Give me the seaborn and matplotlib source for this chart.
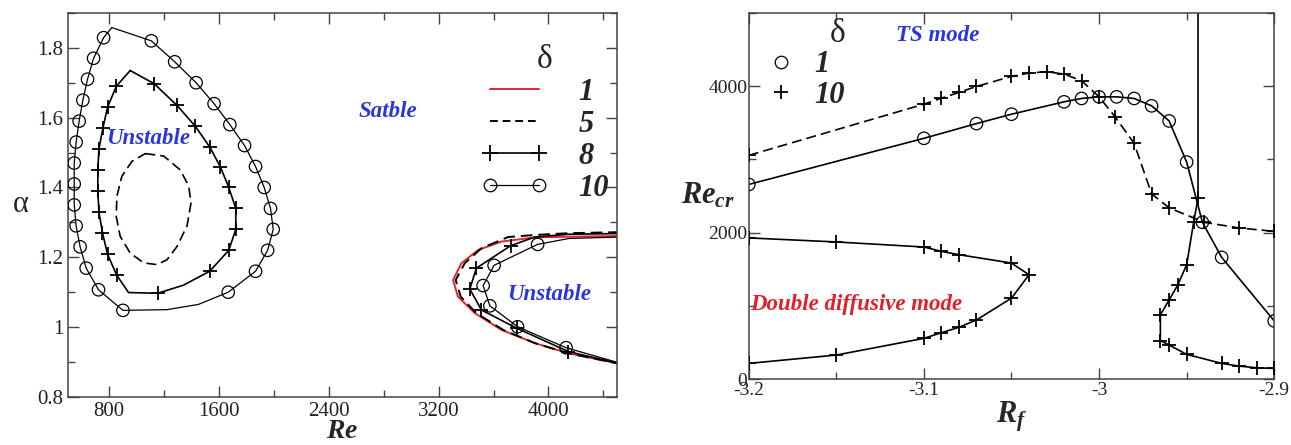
import numpy as np
import pandas as pd
import matplotlib
matplotlib.use("Agg")
import matplotlib.pyplot as plt
from matplotlib.lines import Line2D
from matplotlib.ticker import MultipleLocator
import seaborn as sns

# ---------------- left panel: neutral curves (Re, alpha) ----------------
# delta = 10, left loop (line vertices)
d10_loop_re = [759, 819, 1107, 1277, 1433, 1564, 1679, 1786, 1866, 1929, 1975, 1995, 1954,
               1866, 1667, 1450, 1221, 900, 722, 632, 588, 559, 545, 545, 545, 559, 581,
               608, 642, 686, 759]
d10_loop_a = [1.829, 1.858, 1.820, 1.760, 1.700, 1.640, 1.580, 1.520, 1.460, 1.400, 1.340,
              1.280, 1.220, 1.160, 1.100, 1.065, 1.050, 1.048, 1.107, 1.169, 1.230, 1.290,
              1.350, 1.410, 1.470, 1.530, 1.590, 1.650, 1.710, 1.770, 1.829]
# delta = 10, left loop markers
d10_mk_re = [759, 1107, 1277, 1433, 1564, 1679, 1786, 1866, 1929, 1975, 1995, 1954, 1866,
             1667, 900, 722, 632, 588, 559, 545, 545, 545, 559, 581, 608, 642, 686]
d10_mk_a = [1.829, 1.820, 1.760, 1.700, 1.640, 1.580, 1.520, 1.460, 1.400, 1.340, 1.280,
            1.220, 1.160, 1.100, 1.048, 1.107, 1.169, 1.230, 1.290, 1.350, 1.410, 1.470,
            1.530, 1.590, 1.650, 1.710, 1.770]

# delta = 8, left loop
d8_loop_re = [953, 1128, 1294, 1428, 1532, 1610, 1671, 1722, 1722, 1671, 1532, 1340, 1153,
              941, 856, 788, 751, 725, 717, 717, 725, 754, 788, 852, 953]
d8_loop_a = [1.735, 1.697, 1.635, 1.575, 1.516, 1.459, 1.400, 1.340, 1.280, 1.220, 1.160,
             1.120, 1.097, 1.099, 1.148, 1.208, 1.270, 1.330, 1.390, 1.450, 1.510, 1.570,
             1.630, 1.690, 1.735]
d8_mk_re = [1128, 1294, 1428, 1532, 1610, 1671, 1722, 1722, 1671, 1532, 1153, 856, 788, 751,
            725, 717, 717, 725, 754, 788, 852]
d8_mk_a = [1.697, 1.635, 1.575, 1.516, 1.459, 1.400, 1.340, 1.280, 1.220, 1.160, 1.097,
           1.148, 1.208, 1.270, 1.330, 1.390, 1.450, 1.510, 1.570, 1.630, 1.690]

# delta = 5, left loop (dashed)
d5_loop_re = [1063, 1197, 1318, 1379, 1396, 1367, 1294, 1221, 1148, 1051, 953, 880, 851, 856,
              892, 966, 1063]
d5_loop_a = [1.497, 1.490, 1.450, 1.404, 1.356, 1.290, 1.231, 1.193, 1.179, 1.184, 1.212,
             1.260, 1.317, 1.375, 1.432, 1.475, 1.497]

# right-hand "nose" curves
d1_nose_re = [4520, 4145, 3902, 3658, 3488, 3366, 3305, 3341, 3463, 3658, 3902, 4145, 4520]
d1_nose_a = [1.261, 1.259, 1.257, 1.245, 1.221, 1.183, 1.135, 1.087, 1.040, 0.992, 0.954,
             0.925, 0.895]
d5_nose_re = [4520, 4145, 3902, 3706, 3512, 3390, 3324, 3361, 3475, 3670, 3902, 4145, 4520]
d5_nose_a = [1.272, 1.269, 1.264, 1.258, 1.226, 1.183, 1.135, 1.087, 1.040, 0.992, 0.954,
             0.925, 0.895]
d8_nose_re = [4520, 4145, 3900, 3724, 3475, 3427, 3512, 3768, 4145, 4520]
d8_nose_a = [1.268, 1.266, 1.258, 1.233, 1.169, 1.109, 1.049, 0.997, 0.930, 0.895]
d8_nose_mk_re = [3724, 3475, 3427, 3512, 3768, 4145]
d8_nose_mk_a = [1.233, 1.169, 1.109, 1.049, 0.997, 0.930]
d10_nose_re = [4520, 4150, 3921, 3604, 3524, 3573, 3775, 4128, 4520]
d10_nose_a = [1.258, 1.254, 1.237, 1.177, 1.119, 1.061, 1.001, 0.941, 0.897]
d10_nose_mk_re = [3921, 3604, 3524, 3573, 3775, 4128]
d10_nose_mk_a = [1.237, 1.177, 1.119, 1.061, 1.001, 0.941]

# ---------------- right panel: Re_cr vs R_f ----------------
ts1_rf = [-3.20, -3.10, -3.07, -3.05, -3.02, -3.01, -3.00, -2.99, -2.98, -2.97, -2.96,
          -2.95, -2.941, -2.93, -2.90]
ts1_re = [2658, 3288, 3489, 3617, 3786, 3832, 3854, 3854, 3832, 3731, 3525, 2964, 2141,
          1662, 795]

ts10_rf = [-3.20, -3.10, -3.09, -3.08, -3.07, -3.05, -3.04, -3.03, -3.02, -3.01, -3.00,
           -2.991, -2.98, -2.97, -2.96, -2.94, -2.92, -2.90]
ts10_re = [3055, 3754, 3836, 3914, 3996, 4133, 4179, 4197, 4165, 4074, 3854, 3585, 3220,
           2530, 2339, 2141, 2064, 2018]

dd_loop_rf = [-3.20, -3.15, -3.10, -3.09, -3.08, -3.05, -3.04, -3.05, -3.07, -3.08, -3.09,
              -3.10, -3.15, -3.20]
dd_loop_re = [1928, 1873, 1804, 1744, 1699, 1585, 1425, 1106, 808, 708, 634, 557, 329, 215]

dd_branch_rf = [-2.9435, -2.9435, -2.946, -2.950, -2.955, -2.960, -2.965, -2.965, -2.960,
                -2.950, -2.930, -2.920, -2.910, -2.900]
dd_branch_re = [5600, 2475, 2141, 1562, 1288, 1082, 877, 525, 466, 338, 215, 178, 155, 146]
dd_branch_mk_rf = [-2.9435, -2.946, -2.950, -2.955, -2.960, -2.965, -2.965, -2.960, -2.950,
                   -2.930, -2.920, -2.910, -2.900]
dd_branch_mk_re = [2475, 2141, 1562, 1288, 1082, 877, 525, 466, 338, 215, 178, 155, 146]

sns.set_style("ticks")
plt.rcParams["font.family"] = ["Liberation Serif", "DejaVu Serif"]
plt.rcParams["mathtext.fontset"] = "custom"
plt.rcParams["mathtext.it"] = "Liberation Serif:italic:bold"
plt.rcParams["mathtext.rm"] = "Liberation Serif"
plt.rcParams["mathtext.bf"] = "Liberation Serif:bold"

RED = "#e3262a"
BLUE = "#2a35e0"
DDRED = "#e0202a"
LW = 1.2


def line(ax, x, y, color="k", ls="-", lw=LW):
    df = pd.DataFrame({"x": x, "y": y})
    sns.lineplot(data=df, x="x", y="y", sort=False, estimator=None, ax=ax,
                 color=color, linestyle=ls, linewidth=lw)


def marks(ax, x, y, kind):
    df = pd.DataFrame({"x": x, "y": y})
    if kind == "o":
        sns.scatterplot(data=df, x="x", y="y", ax=ax, marker="o", s=80,
                        facecolor="none", edgecolor="k", linewidth=0.9, zorder=3)
    else:
        sns.scatterplot(data=df, x="x", y="y", ax=ax, marker="+", s=110,
                        color="k", linewidth=1.3, zorder=3)


def style_axes(ax):
    for s in ax.spines.values():
        s.set_color("#444444")
        s.set_linewidth(1.1)
    ax.tick_params(which="both", direction="in", top=True, right=True,
                   colors="#444444", labelcolor="#222222")
    ax.tick_params(which="major", length=8, width=1.0)
    ax.tick_params(which="minor", length=5, width=1.0)


fig = plt.figure(figsize=(12.91, 4.45), dpi=100)
ax1 = fig.add_axes([0.0527, 0.108, 0.4253, 0.863])
ax2 = fig.add_axes([0.580, 0.148, 0.407, 0.823])

# ---- left panel ----
line(ax1, d10_loop_re, d10_loop_a, lw=0.9)
marks(ax1, d10_mk_re, d10_mk_a, "o")
line(ax1, d8_loop_re, d8_loop_a)
marks(ax1, d8_mk_re, d8_mk_a, "+")
line(ax1, d5_loop_re, d5_loop_a, ls=(0, (6, 3)))

line(ax1, d1_nose_re, d1_nose_a, color=RED, lw=1.4)
line(ax1, d5_nose_re, d5_nose_a, ls=(0, (6, 3)), lw=1.4)
line(ax1, d8_nose_re, d8_nose_a)
marks(ax1, d8_nose_mk_re, d8_nose_mk_a, "+")
line(ax1, d10_nose_re, d10_nose_a, lw=0.9)
marks(ax1, d10_nose_mk_re, d10_nose_mk_a, "o")

ax1.set_xlim(500, 4500)
ax1.set_ylim(0.8, 1.9)
ax1.xaxis.set_major_locator(MultipleLocator(800))
ax1.xaxis.set_minor_locator(MultipleLocator(400))
ax1.yaxis.set_major_locator(MultipleLocator(0.2))
ax1.yaxis.set_minor_locator(MultipleLocator(0.1))
ax1.set_yticks([0.8, 1.0, 1.2, 1.4, 1.6, 1.8])
ax1.set_yticklabels(["0.8", "1", "1.2", "1.4", "1.6", "1.8"])
style_axes(ax1)
ax1.tick_params(labelsize=15)
ax1.set_xlabel("$Re$", fontsize=20, labelpad=-1)
ax1.set_ylabel("α", fontsize=22, rotation=0, labelpad=12, va="center")

tkw = dict(fontsize=16.5, fontweight="bold", fontstyle="italic", color=BLUE,
           ha="center", va="center")
ax1.text(1085, 1.541, "Unstable", **tkw)
ax1.text(2832, 1.617, "Satble", **tkw)
ax1.text(4005, 1.092, "Unstable", **tkw)

h1 = [Line2D([], [], color=RED, lw=1.4),
      Line2D([], [], color="k", ls=(0, (4, 2.5)), lw=1.4),
      Line2D([], [], color="k", lw=LW, marker="+", markersize=11, mew=1.3),
      Line2D([], [], color="k", lw=0.9, marker="o", markersize=9, mfc="none", mew=0.9)]
leg1 = ax1.legend(h1, ["1", "5", "8", "10"], title="δ", loc="upper right",
                  bbox_to_anchor=(1.035, 0.99), frameon=False, handlelength=2.2,
                  labelspacing=0.1, handletextpad=1.0, numpoints=2,
                  prop=dict(family="Liberation Serif", size=22, weight="bold", style="italic"))
leg1.get_title().set_fontsize(24)

# ---- right panel ----
line(ax2, ts1_rf, ts1_re)
marks(ax2, ts1_rf, ts1_re, "o")
line(ax2, ts10_rf, ts10_re, ls=(0, (6, 3)))
marks(ax2, ts10_rf, ts10_re, "+")
line(ax2, dd_loop_rf, dd_loop_re)
marks(ax2, dd_loop_rf, dd_loop_re, "+")
line(ax2, dd_branch_rf, dd_branch_re)
marks(ax2, dd_branch_mk_rf, dd_branch_mk_re, "+")

ax2.set_xlim(-3.2, -2.9)
ax2.set_ylim(0, 5000)
ax2.xaxis.set_major_locator(MultipleLocator(0.1))
ax2.xaxis.set_minor_locator(MultipleLocator(0.05))
ax2.yaxis.set_major_locator(MultipleLocator(2000))
ax2.yaxis.set_minor_locator(MultipleLocator(1000))
ax2.set_xticks([-3.2, -3.1, -3.0, -2.9])
ax2.set_xticklabels(["-3.2", "-3.1", "-3", "-2.9"])
ax2.set_yticks([0, 2000, 4000])
ax2.set_yticklabels(["0", "2000", "4000"])
style_axes(ax2)
ax2.tick_params(labelsize=14)
ax2.tick_params(axis="x", pad=2)
ax2.tick_params(axis="y", pad=1)
ax2.set_xlabel("$R_f$", fontsize=22, labelpad=0)
ax2.set_ylabel("$Re_{cr}$", fontsize=22, rotation=0, labelpad=0, va="center")

ax2.text(-3.0923, 4690, "TS mode", **tkw)
ax2.text(-3.1389, 1014, "Double diffusive mode", fontsize=16.5, fontweight="bold",
         fontstyle="italic", color=DDRED, ha="center", va="center")

h2 = [Line2D([], [], ls="none", marker="o", markersize=9, mfc="none", mec="k", mew=0.9),
      Line2D([], [], ls="none", marker="+", markersize=10, mec="k", mew=1.3)]
leg2 = ax2.legend(h2, ["1", "10"], title="δ", loc="upper left",
                  bbox_to_anchor=(-0.02, 1.06), frameon=False, handlelength=1.0,
                  labelspacing=0.05, handletextpad=0.6,
                  prop=dict(family="Liberation Serif", size=22, weight="bold", style="italic"))
leg2.get_title().set_fontsize(24)
leg2._legend_box.align = "right"

fig.savefig("out.png", dpi=100)
